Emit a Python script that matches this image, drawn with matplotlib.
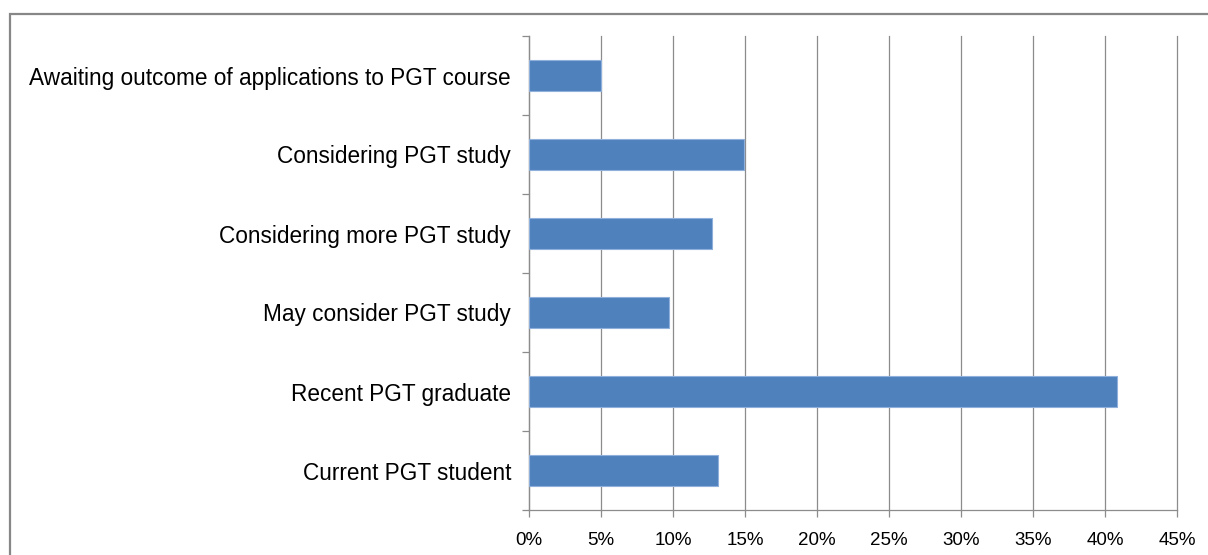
import numpy as np
import matplotlib
matplotlib.use("Agg")
import matplotlib.pyplot as plt
from matplotlib.patches import Rectangle
from matplotlib.ticker import MultipleLocator, FuncFormatter

# ── Data ──────────────────────────────────────────────────────────────────────
categories = [
    "Current PGT student",
    "Recent PGT graduate",
    "May consider PGT study",
    "Considering more PGT study",
    "Considering PGT study",
    "Awaiting outcome of applications to PGT course",
]
shares = [13.1, 40.8, 9.7, 12.7, 14.9, 5.0]   # percent

BAR_COLOR  = "#4F81BD"
EDGE_COLOR = "#8EB0DA"
GRID_COLOR = "#8C8C8C"

plt.rcParams["font.family"] = ["Liberation Sans", "DejaVu Sans"]

fig = plt.figure(figsize=(12.08, 5.55), dpi=100)
ax = fig.add_axes([529 / 1208, 1 - 510 / 555, 648 / 1208, 474 / 555])

y = np.arange(len(categories))
ax.barh(y, shares, height=0.4, color=BAR_COLOR, edgecolor=EDGE_COLOR,
        linewidth=0.8, zorder=3)

ax.set_xlim(0, 45)
ax.set_ylim(-0.5, len(categories) - 0.5)
ax.xaxis.set_major_locator(MultipleLocator(5))
ax.xaxis.set_major_formatter(FuncFormatter(lambda v, _: f"{v:.0f}%"))
ax.grid(axis="x", color=GRID_COLOR, lw=0.9, zorder=0)
for gl in ax.get_xgridlines():
    gl.set_clip_on(False)

# y ticks at category boundaries, labels centred on categories
ax.set_yticks(np.arange(-0.5, len(categories), 1.0))
ax.set_yticklabels([])
ax.set_yticks(y, minor=True)
ax.set_yticklabels(categories, minor=True, fontsize=16.3)
ax.tick_params(axis="y", which="minor", length=0, pad=13)
ax.tick_params(axis="y", which="major", length=5, color=GRID_COLOR, width=0.9)
ax.tick_params(axis="x", length=5, color=GRID_COLOR, width=0.9,
               labelsize=13.5, pad=11)

for side in ["top", "right"]:
    ax.spines[side].set_visible(False)
for side in ["left", "bottom"]:
    ax.spines[side].set_color(GRID_COLOR)
    ax.spines[side].set_linewidth(0.9)

# outer chart frame (cut off at right and bottom)
fig.patches.append(Rectangle((10 / 1208, -0.2), 1.2, 1.2 - 14 / 555,
                             transform=fig.transFigure, fill=False,
                             edgecolor="#878787", lw=1.6))

fig.savefig("out.png", dpi=100)
